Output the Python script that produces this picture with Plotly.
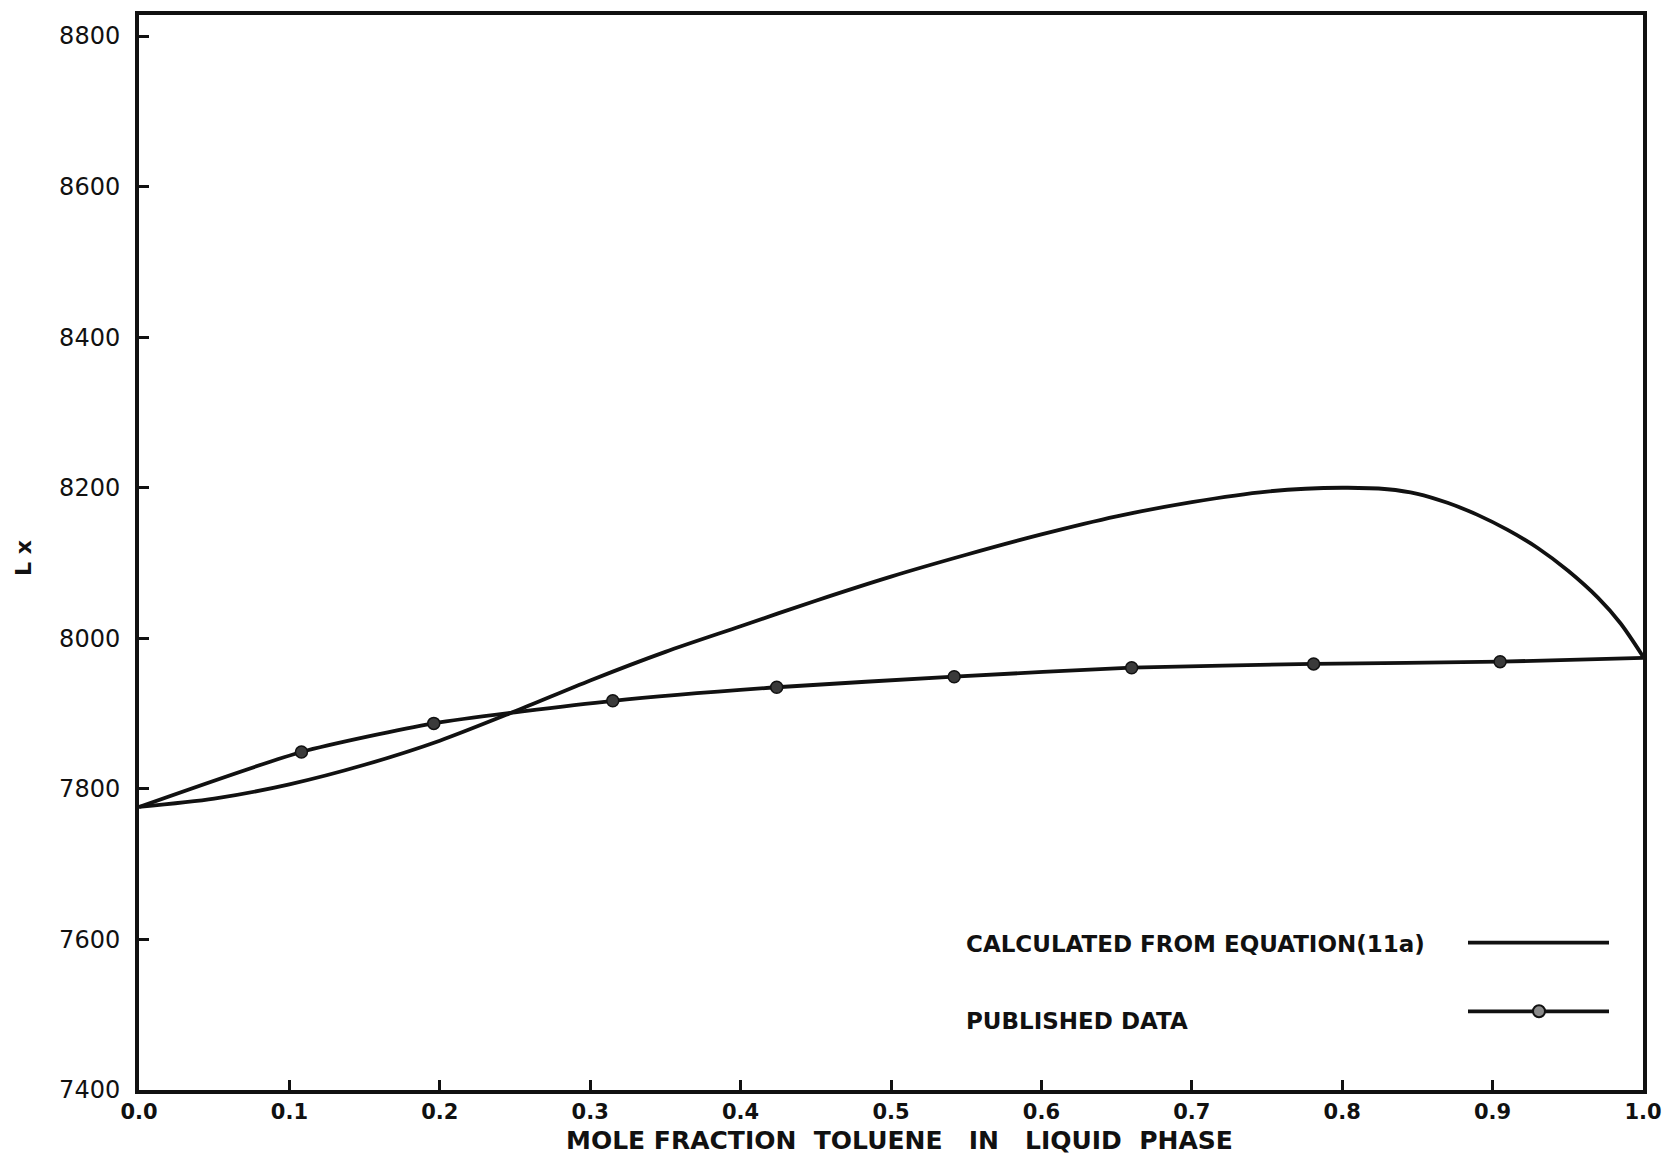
import plotly.graph_objects as go

# Calculated from equation (11a)
calc_x = [0.0, 0.05, 0.1, 0.15, 0.2, 0.25, 0.3, 0.35, 0.4, 0.45, 0.5, 0.55, 0.6,
          0.65, 0.7, 0.75, 0.8, 0.83, 0.85, 0.87, 0.89, 0.91, 0.93, 0.95, 0.97,
          0.985, 1.0]
calc_y = [7776, 7787, 7806, 7832, 7864, 7903, 7944, 7982, 8016, 8050, 8082, 8111, 8138,
          8162, 8181, 8195, 8200, 8198, 8192, 8180, 8164, 8144, 8120, 8090, 8054,
          8020, 7976]

# Published data (line incl. end points, markers at measured points)
pub_line_x = [0.0, 0.108, 0.196, 0.315, 0.424, 0.542, 0.660, 0.781, 0.905, 1.0]
pub_line_y = [7776, 7849, 7887, 7917, 7935, 7949, 7961, 7966, 7969, 7974]
pub_x = [0.108, 0.196, 0.315, 0.424, 0.542, 0.660, 0.781, 0.905]
pub_y = [7849, 7887, 7917, 7935, 7949, 7961, 7966, 7969]

x_ticks = [0.0, 0.1, 0.2, 0.3, 0.4, 0.5, 0.6, 0.7, 0.8, 0.9, 1.0]
x_tick_labels = ["0.0", "0.1", "0.2", "0.3", "0.4", "0.5", "0.6", "0.7", "0.8", "0.9", "1.0"]
y_ticks = [7400, 7600, 7800, 8000, 8200, 8400, 8600, 8800]
y_tick_labels = ["7400", "7600", "7800", "8000", "8200", "8400", "8600", "8800"]

x_title = "MOLE FRACTION\u00a0\u00a0TOLUENE\u00a0\u00a0\u00a0IN\u00a0\u00a0\u00a0LIQUID\u00a0\u00a0PHASE"
y_title = "L x"
legend_labels = ["CALCULATED FROM EQUATION(11a)", "PUBLISHED DATA"]

INK = "#111111"
FONT = "DejaVu Sans"

fig = go.Figure()
fig.add_trace(go.Scatter(x=calc_x, y=calc_y, mode="lines",
                         line=dict(color=INK, width=3.8, shape="spline", smoothing=0.8),
                         showlegend=False, hoverinfo="skip"))
fig.add_trace(go.Scatter(x=pub_line_x, y=pub_line_y, mode="lines",
                         line=dict(color=INK, width=3.8, shape="spline", smoothing=0.6),
                         showlegend=False, hoverinfo="skip"))
fig.add_trace(go.Scatter(x=pub_x, y=pub_y, mode="markers",
                         marker=dict(size=12, color="#3a3a3a", line=dict(color=INK, width=1.5)),
                         showlegend=False, hoverinfo="skip"))

axis_common = dict(showline=True, linecolor=INK, linewidth=4, mirror=True,
                   ticks="inside", tickcolor=INK, showgrid=False, zeroline=False)

fig.update_xaxes(range=[0, 1], tickvals=x_ticks, ticktext=x_tick_labels,
                 ticklen=10, tickwidth=3,
                 tickfont=dict(family=FONT, size=21, color=INK, weight="bold"),
                 **axis_common)
fig.update_yaxes(range=[7400, 8828], tickvals=y_ticks, ticktext=y_tick_labels,
                 ticklen=10, tickwidth=3, ticklabelstandoff=10,
                 tickfont=dict(family=FONT, size=24, color=INK),
                 **axis_common)

# page has an 8px body margin; positions below are in page pixels
OFF = 8
W, H = 1676 - OFF, 1161 - OFF
L, R, T, B = 131, 33, 3, 71
pw, ph = W - L - R, H - T - B

def px(xp):
    return (xp - OFF - L) / pw

def py(yp):
    return (H - B - (yp - OFF)) / ph

annotations = [
    dict(text=x_title, x=px(899), y=py(1141), xref="paper", yref="paper",
         showarrow=False, xanchor="center", yanchor="middle",
         font=dict(family=FONT, size=25, color=INK, weight="bold")),
    dict(text=y_title, x=px(24), y=py(556), xref="paper", yref="paper",
         showarrow=False, xanchor="center", yanchor="middle", textangle=-90,
         font=dict(family=FONT, size=22, color=INK, weight="bold")),
    dict(text=legend_labels[0], x=px(964), y=py(943), xref="paper", yref="paper",
         showarrow=False, xanchor="left", yanchor="middle",
         font=dict(family=FONT, size=23, color=INK, weight="bold")),
    dict(text=legend_labels[1], x=px(964), y=py(1021), xref="paper", yref="paper",
         showarrow=False, xanchor="left", yanchor="middle",
         font=dict(family=FONT, size=23, color=INK, weight="bold")),
]

r_x = 6 / pw
r_y = 6 / ph
shapes = [
    dict(type="line", xref="paper", yref="paper", x0=px(1468), x1=px(1609),
         y0=py(942), y1=py(942), line=dict(color=INK, width=3.8)),
    dict(type="line", xref="paper", yref="paper", x0=px(1468), x1=px(1609),
         y0=py(1011), y1=py(1011), line=dict(color=INK, width=3.8)),
    dict(type="circle", xref="paper", yref="paper",
         x0=px(1539) - r_x, x1=px(1539) + r_x, y0=py(1011) - r_y, y1=py(1011) + r_y,
         fillcolor="#8a8a8a", line=dict(color=INK, width=2)),
]

fig.update_layout(width=W, height=H, margin=dict(l=L, r=R, t=T, b=B),
                  paper_bgcolor="white", plot_bgcolor="white",
                  annotations=annotations, shapes=shapes)

fig.write_html("out.html")
